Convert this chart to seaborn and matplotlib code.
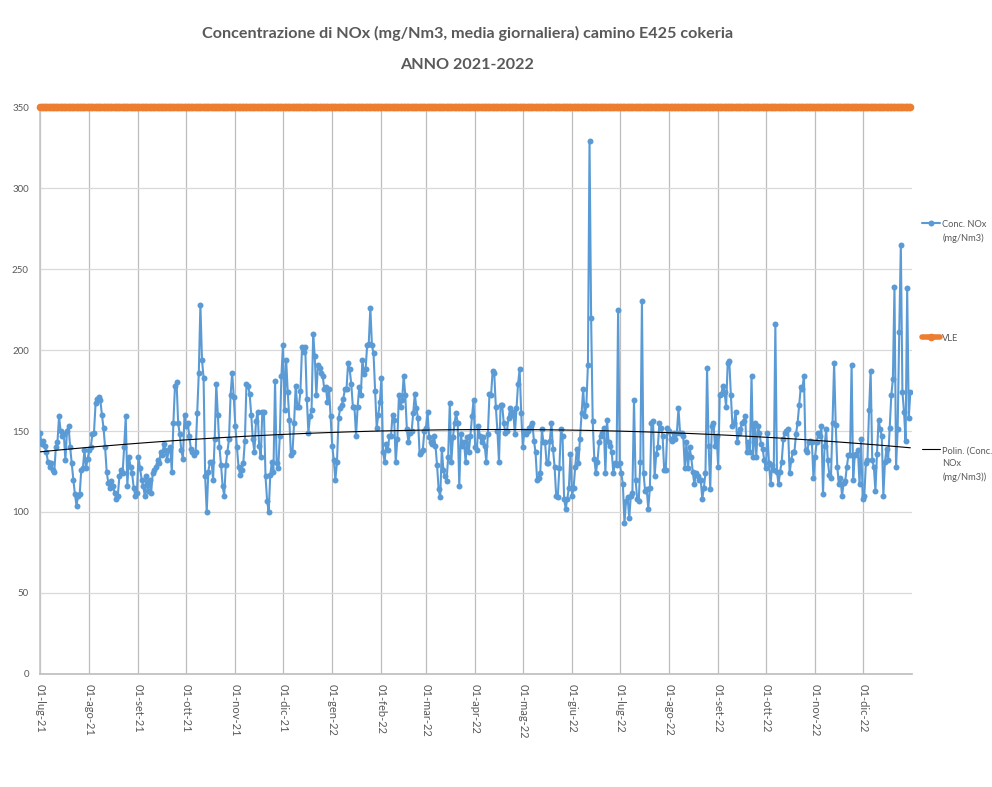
import numpy as np
import pandas as pd
import matplotlib
matplotlib.use("Agg")
import matplotlib.pyplot as plt
import matplotlib.dates as mdates
import seaborn as sns

# NOx giornaliero (mg/Nm3), un elenco per mese
lug21 = [149, 142, 144, 141, 137, 131, 128, 130, 126, 125, 140, 143, 159, 150, 147, 148, 132, 150, 153, 140, 130, 120, 111, 104, 110, 111, 126, 127, 138, 127, 133]
ago21 = [138, 140, 148, 149, 167, 170, 171, 169, 160, 152, 140, 125, 118, 115, 119, 116, 112, 108, 110, 122, 126, 124, 140, 159, 116, 134, 128, 124, 115, 110, 112]
set21 = [134, 127, 120, 116, 110, 122, 113, 120, 112, 124, 126, 128, 132, 130, 137, 135, 142, 138, 132, 138, 140, 125, 155, 178, 180, 155, 148, 138, 133, 160]
ott21 = [153, 155, 147, 139, 137, 135, 137, 161, 186, 228, 194, 183, 122, 100, 125, 131, 131, 120, 145, 179, 160, 140, 129, 116, 110, 129, 137, 145, 172, 186, 171]
nov21 = [153, 140, 128, 123, 126, 130, 144, 179, 178, 173, 160, 145, 137, 156, 162, 141, 134, 162, 162, 122, 107, 100, 123, 131, 125, 181, 130, 127, 147, 184]
dic21 = [203, 163, 194, 174, 157, 135, 137, 155, 178, 165, 165, 175, 202, 199, 202, 170, 149, 159, 163, 210, 196, 172, 191, 189, 186, 184, 176, 177, 168, 176, 159]
gen22 = [141, 132, 120, 131, 158, 164, 166, 170, 176, 176, 192, 188, 179, 165, 165, 147, 165, 177, 172, 194, 185, 188, 203, 204, 226, 203, 198, 175, 152, 160, 168]
feb22 = [183, 137, 131, 142, 138, 147, 147, 160, 157, 131, 145, 172, 165, 169, 184, 172, 151, 143, 149, 150, 161, 173, 164, 158, 136, 137, 138, 150]
mar22 = [152, 162, 146, 143, 142, 147, 141, 129, 114, 109, 139, 126, 122, 119, 134, 167, 131, 146, 155, 161, 155, 116, 148, 141, 143, 131, 146, 137, 147, 159, 169]
apr22 = [140, 138, 153, 147, 143, 146, 141, 131, 148, 173, 172, 187, 186, 165, 150, 131, 166, 166, 155, 149, 150, 158, 164, 160, 162, 148, 164, 179, 188, 161]
mag22 = [140, 150, 148, 150, 152, 153, 155, 144, 137, 120, 121, 124, 151, 143, 143, 130, 130, 144, 155, 139, 128, 110, 109, 127, 151, 147, 108, 102, 108, 115, 136]
giu22 = [110, 115, 128, 139, 130, 145, 161, 176, 159, 166, 191, 329, 220, 156, 133, 124, 131, 143, 147, 149, 152, 124, 157, 143, 141, 137, 124, 130, 129, 225]
lug22 = [130, 124, 117, 93, 107, 109, 96, 110, 112, 169, 120, 108, 107, 131, 230, 124, 113, 114, 102, 115, 155, 156, 122, 136, 140, 155, 152, 147, 126, 126, 152]
ago22 = [150, 145, 144, 149, 145, 149, 164, 149, 149, 147, 127, 143, 127, 140, 134, 125, 117, 124, 122, 120, 120, 108, 115, 124, 189, 141, 114, 153, 155, 141, 147]
set22 = [128, 172, 173, 178, 174, 165, 192, 193, 172, 153, 155, 162, 143, 149, 151, 155, 156, 159, 137, 143, 137, 184, 134, 155, 134, 153, 149, 142, 139, 132]
ott22 = [127, 149, 130, 117, 129, 126, 216, 125, 117, 125, 131, 145, 149, 150, 151, 124, 132, 137, 137, 148, 155, 166, 177, 176, 184, 138, 137, 143, 144, 143, 121]
nov22 = [134, 143, 149, 147, 153, 111, 141, 151, 132, 123, 121, 155, 192, 154, 128, 117, 121, 110, 118, 119, 128, 135, 135, 191, 120, 135, 136, 138, 117, 145]
dic22 = [108, 110, 130, 132, 163, 187, 132, 128, 113, 136, 157, 151, 147, 110, 131, 139, 132, 152, 172, 182, 239, 128, 151, 211, 265, 174, 162, 144, 238, 158, 174]

vle = 350  # valore limite di emissione
mesi = ['gen', 'feb', 'mar', 'apr', 'mag', 'giu', 'lug', 'ago', 'set', 'ott', 'nov', 'dic']
yticks = [0, 50, 100, 150, 200, 250, 300, 350]

titolo1 = 'Concentrazione di NOx (mg/Nm3, media giornaliera) camino E425 cokeria'
titolo2 = 'ANNO 2021-2022'
lab_nox = 'Conc. NOx\n(mg/Nm3)'
lab_vle = 'VLE'
lab_pol = 'Polin. (Conc.\nNOx\n(mg/Nm3))'

nox = (lug21 + ago21 + set21 + ott21 + nov21 + dic21 + gen22 + feb22 + mar22
       + apr22 + mag22 + giu22 + lug22 + ago22 + set22 + ott22 + nov22 + dic22)
giorni = pd.date_range('2021-07-01', periods=len(nox), freq='D')
df = pd.DataFrame({'x': mdates.date2num(giorni), 'nox': nox, 'vle': vle})

grigio = '#595959'
sns.set_theme(style='white')
plt.rcParams['font.family'] = ['Lato', 'DejaVu Sans']

fig = plt.figure(figsize=(9.92, 7.87), dpi=100)
ax = fig.add_axes([0.0403, 0.1436, 0.8790, 0.7204])

sns.lineplot(data=df, x='x', y='vle', ax=ax, color='#ED7D31', linewidth=4,
             marker='o', markersize=5.5, markeredgewidth=0, label=lab_vle, zorder=3,
             clip_on=False)
sns.lineplot(data=df, x='x', y='nox', ax=ax, color='#5B9BD5', linewidth=1.5,
             marker='o', markersize=4.3, markeredgewidth=0, label=lab_nox, zorder=4)
sns.regplot(data=df, x='x', y='nox', ax=ax, order=2, scatter=False, ci=None,
            truncate=True, line_kws=dict(color='black', linewidth=0.8, zorder=5),
            label=lab_pol)

inizi_mese = pd.date_range('2021-07-01', '2022-12-01', freq='MS')
ax.set_xticks(mdates.date2num(inizi_mese))
ax.set_xticklabels([f'01-{mesi[d.month - 1]}-{d.year % 100}' for d in inizi_mese],
                   rotation=-90, fontsize=8, color=grigio)
ax.set_xlim(df['x'].iloc[0], df['x'].iloc[-1] + 1)
ax.set_ylim(0, 350)
ax.set_yticks(yticks)
ax.set_yticklabels([str(v) for v in yticks], fontsize=7, color=grigio)
ax.set_xlabel('')
ax.set_ylabel('')

ax.grid(axis='y', color='#d9d9d9', linewidth=0.9)
ax.grid(axis='x', color='#bdbdbd', linewidth=0.9)
ax.set_axisbelow(True)
for s in ['top', 'right']:
    ax.spines[s].set_visible(False)
ax.spines['left'].set_color('#c8c8c8')
ax.spines['bottom'].set_color('#bfbfbf')
ax.tick_params(axis='x', length=4, color='#bfbfbf', pad=3)
ax.tick_params(axis='y', length=0, pad=8)

fig.text(0.471, 0.958, titolo1, ha='center', va='center', fontsize=11.6,
         fontweight='bold', color=grigio)
fig.text(0.471, 0.918, titolo2, ha='center', va='center', fontsize=11.6,
         fontweight='bold', color=grigio)

h, l = ax.get_legend_handles_labels()
ordine = [l.index(lab_nox), l.index(lab_vle), l.index(lab_pol)]
# la voce VLE occupa due righe come le altre, così le voci sono equidistanti
etichette = [lab_nox, lab_vle + '\n ', lab_pol]
leg = ax.legend([h[i] for i in ordine], etichette, loc='upper left',
                bbox_to_anchor=(0.926, 0.725), bbox_transform=fig.transFigure,
                frameon=False, fontsize=6.7, labelspacing=9.75, handlelength=1.9,
                handletextpad=0.25, borderaxespad=0)
for t in leg.get_texts():
    t.set_color(grigio)
    t.set_linespacing(1.55)
# simbolo allineato alla prima riga dell'etichetta, come in Excel
for col in leg._legend_handle_box.get_children():
    for riga in col.get_children():
        riga.align = 'top'

fig.savefig('out.png', dpi=100)
